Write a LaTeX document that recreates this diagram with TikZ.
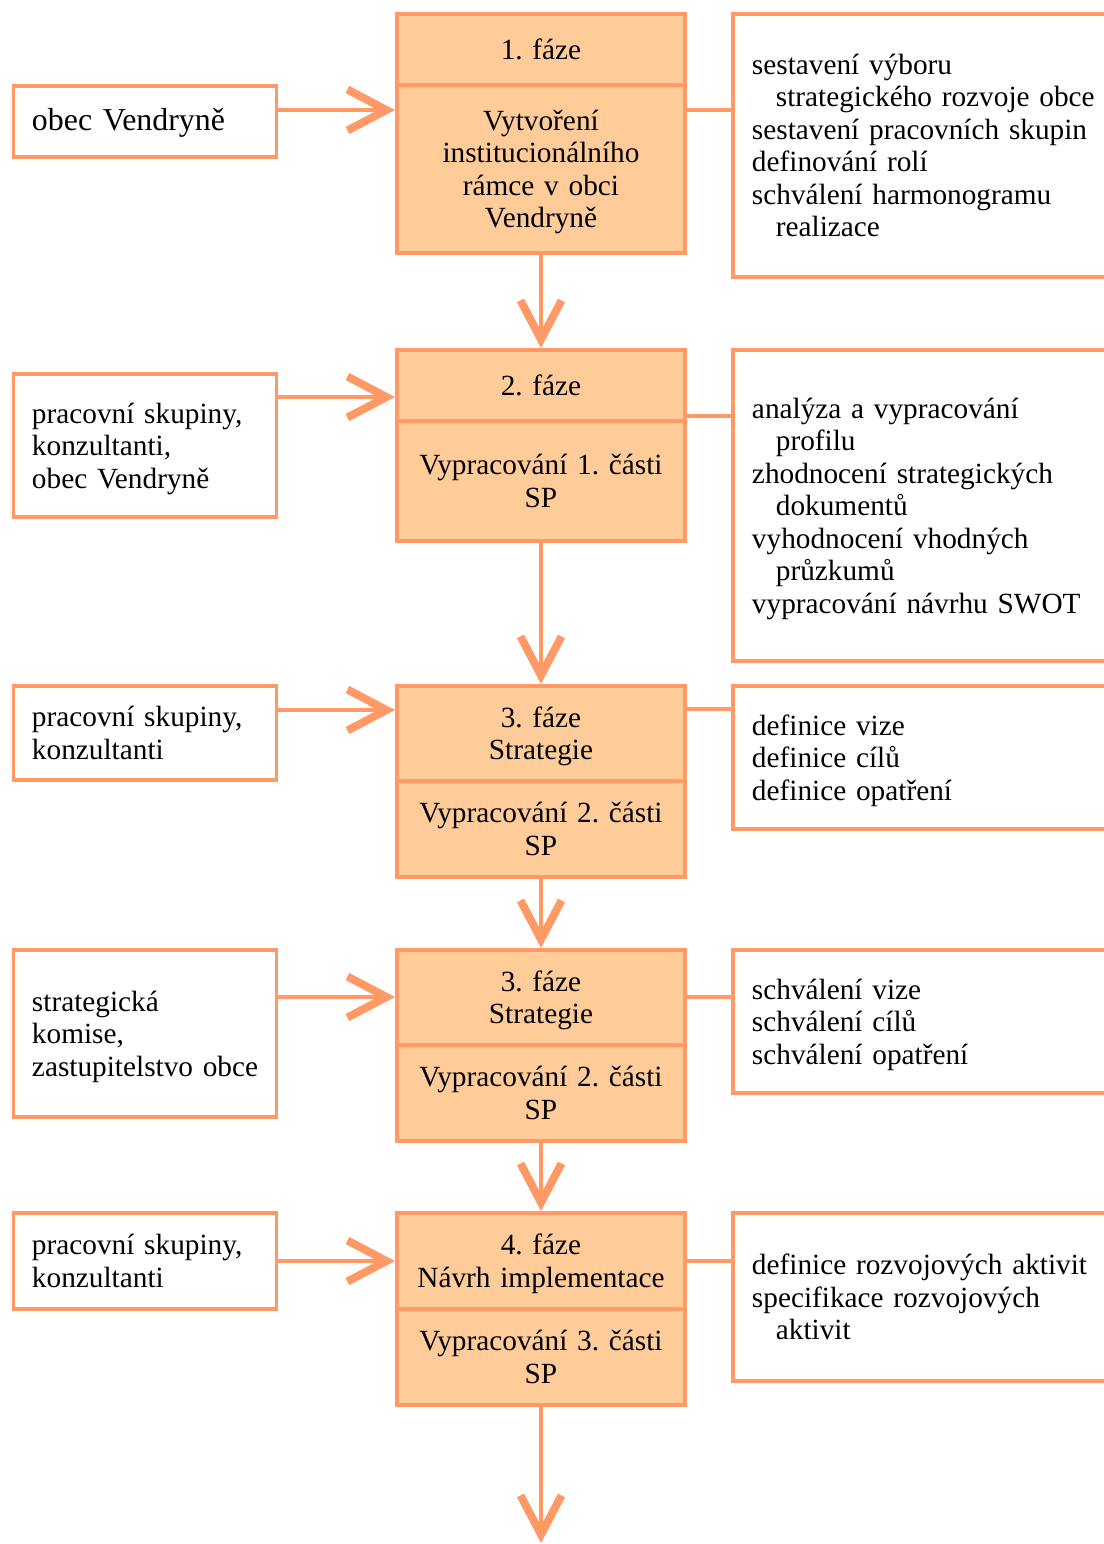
\documentclass[tikz,border=0pt]{standalone}
\usepackage{fontspec}
\setmainfont{Liberation Serif}[WordSpace=0.85]
\usetikzlibrary{arrows.meta}
\definecolor{phaseline}{HTML}{FF9966}
\definecolor{phasefill}{HTML}{FFCC99}
\newcommand{\ind}{\hspace*{10.2pt}}

\begin{document}
\begin{tikzpicture}[x=0.015cm, y=-0.015cm,
    >={Straight Barb[length=0.585cm, width=0.615cm, line width=3.4pt]},
    every node/.style={font=\fontsize{12.5pt}{13.87pt}\selectfont\frenchspacing,
      execute at begin node=\rule{0pt}{12.7pt}, execute at end node=\strut},
    phase/.style={draw=phaseline, fill=phasefill, line width=1.7pt, text width=4.32cm, align=center, inner sep=0pt},
    actor/.style={draw=phaseline, fill=white, line width=1.7pt, text width=3.39cm, inner xsep=0.2775cm, inner ysep=0pt, align=left},
    task/.style={draw=phaseline, fill=white, line width=1.7pt, text width=5.235cm, inner xsep=0.285cm, inner ysep=0pt, align=left},
    tall/.style={minimum height=#1*0.015cm},
    flow/.style={->, draw=phaseline, line width=1.7pt},
    link/.style={draw=phaseline, line width=1.7pt}]

    % Fix the page size
    \useasboundingbox (0,0) rectangle (1104,1544);
    \clip (0,0) rectangle (1104,1544);

    % Draw the phases
    \node[phase, tall=71] (h1) at (541,49.5) {1. fáze};
    \node[phase, tall=168] (b1) at (541,169) {Vytvoření\\institucionálního\\rámce v obci\\Vendryně};
    \node[phase, tall=71] (h2) at (541,385.5) {2. fáze};
    \node[phase, tall=120] (b2) at (541,481) {Vypracování 1. části\\SP};
    \node[phase, tall=94.5] (h3) at (541,733.25) {3. fáze\\Strategie};
    \node[phase, tall=96.5] (b3) at (541,828.75) {Vypracování 2. části\\SP};
    \node[phase, tall=95] (h4) at (541,997.5) {3. fáze\\Strategie};
    \node[phase, tall=96] (b4) at (541,1093) {Vypracování 2. části\\SP};
    \node[phase, tall=96] (h5) at (541,1261) {4. fáze\\Návrh implementace};
    \node[phase, tall=96] (b5) at (541,1357) {Vypracování 3. části\\SP};
    \coordinate (end) at (541,1543);

    % Draw the actors
    \node[actor, tall=71, font=\fontsize{13.6pt}{15.6pt}\selectfont] (l1) at (145,121.5) {obec Vendryně};
    \node[actor, tall=143] (l2) at (145,445.5) {pracovní skupiny,\\konzultanti,\\obec Vendryně};
    \node[actor, tall=94] (l3) at (145,733) {pracovní skupiny,\\konzultanti};
    \node[actor, tall=167] (l4) at (145,1033.5) {strategická\\komise,\\\mbox{zastupitelstvo obce}};
    \node[actor, tall=96] (l5) at (145,1261) {pracovní skupiny,\\konzultanti};

    % Draw the tasks
    \node[task, tall=263] (r1) at (926.5,145.5) {sestavení výboru\\\ind strategického rozvoje obce\\sestavení pracovních skupin\\definování rolí\\schválení harmonogramu\\\ind realizace};
    \node[task, tall=311] (r2) at (926.5,505.5) {analýza a vypracování\\\ind profilu\\zhodnocení strategických\\\ind dokumentů\\vyhodnocení vhodných\\\ind průzkumů\\vypracování návrhu SWOT};
    \node[task, tall=143] (r3) at (926.5,757.5) {definice vize\\definice cílů\\definice opatření};
    \node[task, tall=143] (r4) at (926.5,1021.5) {schválení vize\\schválení cílů\\schválení opatření};
    \node[task, tall=168] (r5) at (926.5,1297) {definice rozvojových aktivit\\specifikace rozvojových\\\ind aktivit};

    % Draw the flow between phases
    \draw[flow] (b1.south) -- (h2.north);
    \draw[flow] (b2.south) -- (h3.north);
    \draw[flow] (b3.south) -- (h4.north);
    \draw[flow] (b4.south) -- (h5.north);
    \draw[flow] (b5.south) -- (end);

    % Draw the actor arrows
    \draw[flow] (l1.east |- 0,110) -- (b1.west |- 0,110);
    \draw[flow] (l2.east |- 0,397) -- (h2.west |- 0,397);
    \draw[flow] (l3.east |- 0,710) -- (h3.west |- 0,710);
    \draw[flow] (l4.east |- 0,997) -- (h4.west |- 0,997);
    \draw[flow] (l5.east |- 0,1261) -- (h5.west |- 0,1261);

    % Draw the task links
    \draw[link] (b1.east |- 0,110) -- (r1.west |- 0,110);
    \draw[link] (h2.east |- 0,416) -- (r2.west |- 0,416);
    \draw[link] (h3.east |- 0,709) -- (r3.west |- 0,709);
    \draw[link] (h4.east |- 0,997) -- (r4.west |- 0,997);
    \draw[link] (h5.east |- 0,1261) -- (r5.west |- 0,1261);
\end{tikzpicture}
\end{document}
